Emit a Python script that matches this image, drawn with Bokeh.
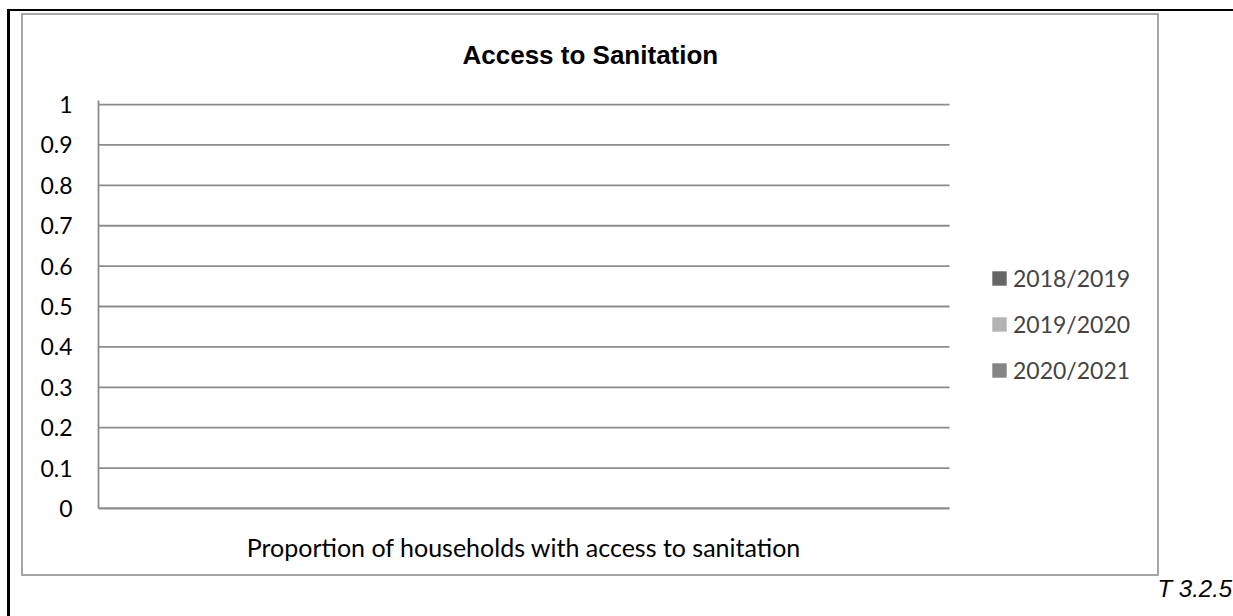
from bokeh.plotting import figure
from bokeh.models import (Range1d, FixedTicker, Legend, LegendItem,
                          Title, ColumnDataSource, InlineStyleSheet)
from bokeh.embed import file_html
from bokeh.resources import INLINE

# ---- data ----
title_text = "Access to Sanitation"
categories = ["Proportion of households with access to sanitation"]
series_names = ["2018/2019", "2019/2020", "2020/2021"]
series_colors = ["#666666", "#b3b3b3", "#858585"]
values_2018_2019 = [0]
values_2019_2020 = [0]
values_2020_2021 = [0]
y_ticks = [0, 0.1, 0.2, 0.3, 0.4, 0.5, 0.6, 0.7, 0.8, 0.9, 1]
y_tick_labels = ["0", "0.1", "0.2", "0.3", "0.4", "0.5", "0.6", "0.7", "0.8", "0.9", "1"]
footnote = "T 3.2.5"

W, H = 1233, 616
FONT = "Lato"
GRID = "#8c8c8c"

css = """
:host { position: relative; }
:host::before { content: ""; position: absolute; left: 7px; top: 9px; right: 0; bottom: 0;
  border-top: 2px solid black; border-left: 3px solid black; box-sizing: border-box;
  pointer-events: none; z-index: 100; }
:host::after { content: ""; position: absolute; left: 21px; top: 13px; width: 1138px; height: 563px;
  border: 2px solid #a6a6a6; box-sizing: border-box; pointer-events: none; z-index: 100; }
"""

# plot area spans category slots 0..1; frame extends further right to hold the legend
n_cat = len(categories)
x_end = n_cat * (1160 - 98) / 851.0

p = figure(width=W, height=H, x_range=Range1d(0, x_end), y_range=Range1d(0, 1.01),
           output_backend="svg", toolbar_location=None,
           min_border_left=98, min_border_right=W - 1160, min_border_top=100,
           min_border_bottom=H - 508)
p.stylesheets = [InlineStyleSheet(css=css)]
p.outline_line_color = None
p.background_fill_color = "white"
p.border_fill_color = "white"

# horizontal gridlines across the category slots only
p.segment(x0=[0] * len(y_ticks), x1=[n_cat] * len(y_ticks), y0=y_ticks, y1=y_ticks,
          line_color=GRID, line_width=1.8)

cat_centers = [i + 0.5 for i in range(n_cat)]
src = ColumnDataSource(dict(x=cat_centers, s0=values_2018_2019, s1=values_2019_2020,
                            s2=values_2020_2021))
renderers = []
bar_w = 0.25
for i, (name, col) in enumerate(zip(series_names, series_colors)):
    src.data[f"x{i}"] = [c + (i - 1) * bar_w for c in cat_centers]
    r = p.vbar(x=f"x{i}", top=f"s{i}", width=bar_w, source=src,
               fill_color=col, line_color=None)
    renderers.append(r)

# axes
p.yaxis.ticker = FixedTicker(ticks=y_ticks)
p.yaxis.major_label_overrides = {t: l for t, l in zip(y_ticks, y_tick_labels)}
p.yaxis.major_tick_line_color = None
p.yaxis.minor_tick_line_color = None
p.yaxis.axis_line_color = GRID
p.yaxis.axis_line_width = 1.8
p.yaxis.major_label_standoff = 20
p.yaxis.major_label_text_font = FONT
p.yaxis.major_label_text_font_size = "23px"
p.yaxis.major_label_text_color = "black"

p.xaxis.ticker = FixedTicker(ticks=cat_centers)
p.xaxis.major_label_overrides = {c: l for c, l in zip(cat_centers, categories)}
p.xaxis.bounds = (0, n_cat)
p.xaxis.major_tick_line_color = None
p.xaxis.minor_tick_line_color = None
p.xaxis.axis_line_color = GRID
p.xaxis.axis_line_width = 1.8
p.xaxis.major_label_standoff = 17
p.xaxis.major_label_text_font = FONT
p.xaxis.major_label_text_font_size = "25px"
p.xaxis.major_label_text_color = "black"

p.xgrid.grid_line_color = None
p.ygrid.grid_line_color = None

# title
p.title = Title(text=title_text, align="left", offset=364, standoff=61,
                text_font="Liberation Sans", text_font_style="bold", text_font_size="26px",
                text_color="black")

# legend inside the (extended) frame, right of the plot area
legend = Legend(items=[LegendItem(label=n, renderers=[r]) for n, r in zip(series_names, renderers)],
                location=(892, 124), orientation="vertical",
                glyph_width=18, glyph_height=18, label_standoff=5, spacing=18,
                label_text_font=FONT, label_text_font_size="23px",
                border_line_color=None, background_fill_alpha=0, padding=0, margin=0)
p.add_layout(legend, "center")

# footnote below
p.add_layout(Title(text=footnote, align="left", offset=1059, standoff=16,
                   text_line_height=1.4,
                   text_font="Liberation Sans", text_font_style="italic", text_font_size="24px",
                   text_color="black"), "below")

open("out.html", "w").write(file_html(p, INLINE))
